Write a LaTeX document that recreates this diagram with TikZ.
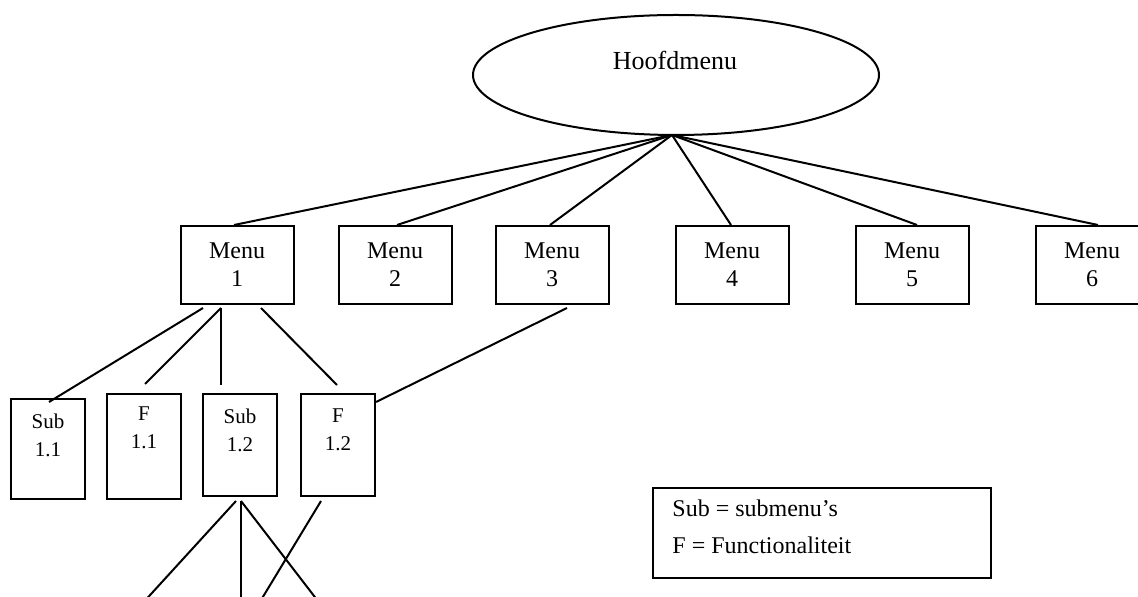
\documentclass[tikz,border=0pt]{standalone}
\usepackage{fontspec}
\setmainfont{Liberation Serif}
\usetikzlibrary{shapes.geometric}
\tikzset{
  ln/.style={line width=1pt, black},
  menubox/.style={draw, line width=1pt, rectangle, minimum width=56.5pt, minimum height=39pt, inner sep=0pt, align=center, font=\fontsize{12}{14}\selectfont},
  subbox/.style={draw, line width=1pt, rectangle, minimum width=37pt, inner sep=0pt},
  subtext/.style={align=center, inner sep=0pt, font=\fontsize{10.5}{14}\selectfont},
  mainell/.style={draw, line width=1pt, ellipse, minimum width=203pt, minimum height=60pt, inner sep=0pt},
  legendbox/.style={draw, line width=1pt, rectangle, minimum width=169pt, minimum height=45pt, inner sep=0pt},
  legendtext/.style={align=left, inner sep=0pt, font=\fontsize{12}{18.5}\selectfont}
}
\begin{document}
\begin{tikzpicture}[x=0.5pt, y=-0.5pt]
\useasboundingbox (0,0) rectangle (1138,597);
% main ellipse
\node[mainell] (hm) at (676,75) {};
\node[inner sep=0pt, font=\fontsize{13}{15}\selectfont] (hmt) at (675,60) {Hoofdmenu};
\coordinate (fan) at (672,135);
% menus
\node[menubox] (m1) at (237,265) {Menu\\1};
\node[menubox] (m2) at (395,265) {Menu\\2};
\node[menubox] (m3) at (552,265) {Menu\\3};
\node[menubox] (m4) at (732,265) {Menu\\4};
\node[menubox] (m5) at (912,265) {Menu\\5};
\node[menubox] (m6) at (1092,265) {Menu\\6};
% sub boxes
\node[subbox, minimum height=50pt] (s11) at (48,449) {};
\node[subbox, minimum height=52.5pt] (f11) at (144,446.5) {};
\node[subbox, minimum height=51pt] (s12) at (240,445) {};
\node[subbox, minimum height=51pt] (f12) at (338,445) {};
\node[subtext] (s11t) at ([yshift=-18.5pt]s11.north) {Sub\\1.1};
\node[subtext] (f11t) at ([yshift=-17.5pt]f11.north) {F\\1.1};
\node[subtext] (s12t) at ([yshift=-18.5pt]s12.north) {Sub\\1.2};
\node[subtext] (f12t) at ([yshift=-18.5pt]f12.north) {F\\1.2};
% legend
\node[legendbox] (lg) at (822,533) {};
\node[legendtext, anchor=west] (lgt) at ([xshift=10pt, yshift=3.25pt]lg.west) {Sub = submenu’s\\F = Functionaliteit};
% fan lines
\draw[ln] (fan) -- ([xshift=-1.5pt]m1.north);
\draw[ln] (fan) -- ([xshift=1pt]m2.north);
\draw[ln] (fan) -- ([xshift=-1pt]m3.north);
\draw[ln] (fan) -- ([xshift=-0.5pt]m4.north);
\draw[ln] (fan) -- ([xshift=2.5pt]m5.north);
\draw[ln] (fan) -- ([xshift=3pt]m6.north);
% menu 1 children
\draw[ln] ([xshift=-17pt, yshift=-1.5pt]m1.south) -- ([xshift=0.5pt, yshift=-2pt]s11.north);
\draw[ln] ([xshift=-8pt, yshift=-1.5pt]m1.south) -- ([xshift=0.5pt, yshift=4.5pt]f11.north);
\draw[ln] ([xshift=-8pt, yshift=-1.5pt]m1.south) -- ([xshift=-9.5pt, yshift=4pt]s12.north);
\draw[ln] ([xshift=12pt, yshift=-1.5pt]m1.south) -- ([xshift=-0.5pt, yshift=4pt]f12.north);
% menu 3 to F1.2
\draw[ln] ([xshift=7.5pt, yshift=-1.5pt]m3.south) -- ([yshift=-4.5pt]f12.north east);
% lower free lines
\coordinate (e1) at (141,605);
\coordinate (e2) at (241,605);
\coordinate (e3) at (321,605);
\coordinate (e4) at (258,605);
\draw[ln] ([xshift=-2pt, yshift=-2pt]s12.south) -- (e1);
\draw[ln] ([xshift=0.5pt, yshift=-2pt]s12.south) -- (e2);
\draw[ln] ([xshift=0.5pt, yshift=-2pt]s12.south) -- (e3);
\draw[ln] ([xshift=-8.5pt, yshift=-2pt]f12.south) -- (e4);
\end{tikzpicture}
\end{document}
